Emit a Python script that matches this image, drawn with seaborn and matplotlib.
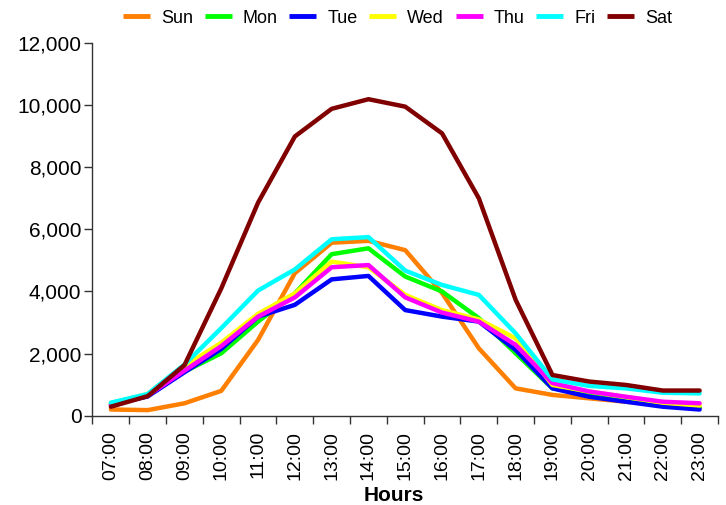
import pandas as pd
import matplotlib.pyplot as plt
import seaborn as sns

# Data
hours = ["07:00", "08:00", "09:00", "10:00", "11:00", "12:00", "13:00", "14:00", "15:00",
         "16:00", "17:00", "18:00", "19:00", "20:00", "21:00", "22:00", "23:00"]
days = ["Sun", "Mon", "Tue", "Wed", "Thu", "Fri", "Sat"]

sun = [200, 180, 400, 800, 2440, 4590, 5570, 5630, 5330, 3950, 2170, 880, 670, 560, 450, 350, 260]
mon = [400, 650, 1420, 2010, 3030, 3940, 5200, 5390, 4480, 4000, 3140, 2010, 880, 700, 520, 350, 250]
tue = [350, 620, 1400, 2150, 3190, 3570, 4390, 4500, 3400, 3190, 3030, 2120, 880, 610, 450, 290, 200]
wed = [400, 700, 1600, 2350, 3280, 3940, 4960, 4780, 3890, 3400, 3100, 2490, 990, 780, 600, 420, 330]
thu = [350, 650, 1450, 2240, 3190, 3810, 4780, 4850, 3810, 3320, 3030, 2280, 1050, 780, 610, 450, 400]
fri = [420, 700, 1650, 2820, 4030, 4710, 5680, 5750, 4670, 4210, 3890, 2650, 1170, 960, 880, 740, 720]
sat = [290, 630, 1630, 4100, 6860, 8990, 9880, 10190, 9950, 9090, 7000, 3730, 1310, 1100, 990, 810, 810]

colors = ["#ff7f00", "#00ff00", "#0000ff", "#ffff00", "#ff00ff", "#00ffff", "#800000"]

series = [sun, mon, tue, wed, thu, fri, sat]
rows = []
for day, vals in zip(days, series):
    for i, v in enumerate(vals):
        rows.append({"Hour": i, "Day": day, "Count": v})
df = pd.DataFrame(rows)

sns.set_style("white")
plt.rcParams["font.family"] = ["Liberation Sans", "DejaVu Sans"]
plt.rcParams["text.color"] = "black"
plt.rcParams["xtick.color"] = "black"
plt.rcParams["ytick.color"] = "black"

fig = plt.figure(figsize=(7.26, 5.05), dpi=100)
ax = fig.add_axes([0.1274, 0.1768, 0.989 - 0.1274, 0.9149 - 0.1768])

sns.lineplot(data=df, x="Hour", y="Count", hue="Day", hue_order=days,
             palette=dict(zip(days, colors)), linewidth=3.2, ax=ax, legend=False)

# axes look
ax.set_xlim(-0.5, len(hours) - 0.5)
ax.set_ylim(0, 12000)
ax.set_yticks(range(0, 12001, 2000))
ax.set_yticklabels([f"{v:,}" for v in range(0, 12001, 2000)])
ax.set_xticks([i - 0.5 for i in range(len(hours) + 1)])
ax.set_xticklabels([])
ax.set_xticks(range(len(hours)), minor=True)
ax.set_xticklabels(hours, minor=True, rotation=90)
ax.tick_params(axis="x", which="minor", bottom=True, length=0, pad=11, labelsize=14)
ax.tick_params(axis="x", which="major", bottom=True, length=6, width=1, color="#333333", direction="out")
ax.tick_params(axis="y", left=True, length=6, width=1, color="#333333", direction="out", pad=2, labelsize=15)

for s in ["top", "right"]:
    ax.spines[s].set_visible(False)
for s in ["left", "bottom"]:
    ax.spines[s].set_color("#333333")
    ax.spines[s].set_linewidth(1)

ax.set_ylabel("")
ax.set_xlabel("Hours", fontsize=15, fontweight="bold", color="black")
ax.xaxis.set_label_coords(0.482, -0.213)
ax.xaxis.label.set_va("center")

# legend on top
handles = [plt.Line2D([], [], color=c, linewidth=3.5, solid_capstyle="butt") for c in colors]
fig.legend(handles, days, loc="center", bbox_to_anchor=(0.5475, 0.964), ncol=7,
           frameon=False, fontsize=13, handlelength=1.5, handletextpad=0.6,
           columnspacing=0.65, borderpad=0, borderaxespad=0)

plt.savefig("out.png", dpi=100)
